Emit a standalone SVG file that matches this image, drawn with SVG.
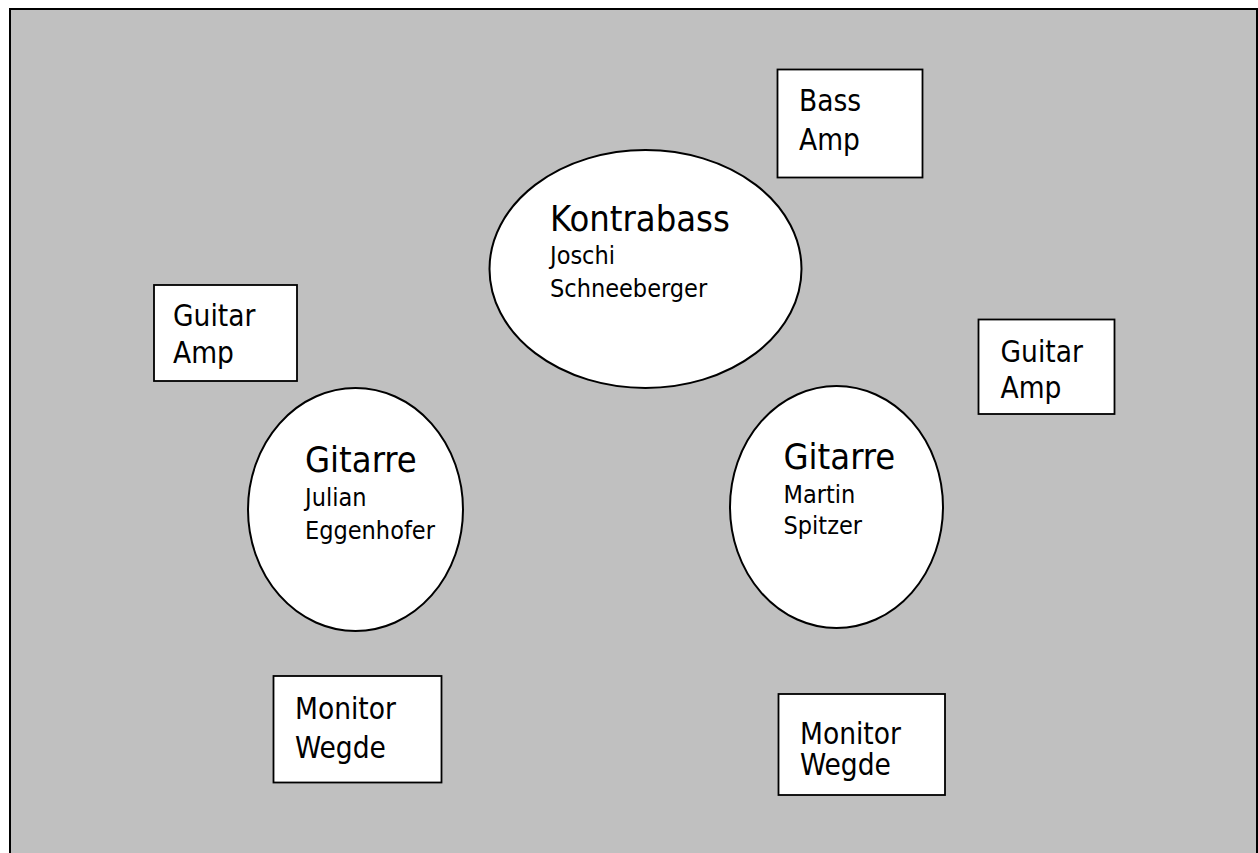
<svg xmlns="http://www.w3.org/2000/svg" width="1258" height="853" viewBox="0 0 1258 853">
<style>
.bg{fill:#c0c0c0;stroke:#000;stroke-width:2}
.box{fill:#fff;stroke:#000;stroke-width:1.8}
.ell{fill:#fff;stroke:#000;stroke-width:2}
text{font-family:"DejaVu Sans Condensed","DejaVu Sans",sans-serif;font-stretch:condensed;fill:#000}
.big{font-size:36px}
.mid{font-size:29.5px}
.sm{font-size:25px}
</style>
<rect width="1258" height="853" fill="#fff"/>
<rect class="bg" x="10" y="9" width="1247" height="900"/>
<g id="connectors"/>
<g id="kontrabass">
<ellipse class="ell" cx="645.5" cy="269" rx="156" ry="119"/>
<text class="big" x="550" y="231">Kontrabass</text>
<text class="sm" x="550" y="264">Joschi</text>
<text class="sm" x="550" y="297">Schneeberger</text>
</g>
<g id="gitarre-julian">
<ellipse class="ell" cx="355.5" cy="509.5" rx="107.5" ry="121.5"/>
<text class="big" x="305" y="472">Gitarre</text>
<text class="sm" x="305" y="506">Julian</text>
<text class="sm" x="305" y="538.5">Eggenhofer</text>
</g>
<g id="gitarre-martin">
<ellipse class="ell" cx="836.5" cy="507" rx="106.5" ry="121"/>
<text class="big" x="783.5" y="468.5">Gitarre</text>
<text class="sm" x="783.5" y="503">Martin</text>
<text class="sm" x="783.5" y="534">Spitzer</text>
</g>
<g id="bass-amp">
<rect class="box" x="777.5" y="69.5" width="145" height="108"/>
<text class="mid" x="799" y="111">Bass</text>
<text class="mid" x="799" y="150">Amp</text>
</g>
<g id="guitar-amp-left">
<rect class="box" x="154" y="285" width="143" height="96"/>
<text class="mid" x="173" y="326">Guitar</text>
<text class="mid" x="173" y="362.5">Amp</text>
</g>
<g id="guitar-amp-right">
<rect class="box" x="978.5" y="319.5" width="136" height="94.5"/>
<text class="mid" x="1000.5" y="361.5">Guitar</text>
<text class="mid" x="1000.5" y="397.5">Amp</text>
</g>
<g id="monitor-left">
<rect class="box" x="273.5" y="676" width="168" height="106.5"/>
<text class="mid" x="295" y="718.5">Monitor</text>
<text class="mid" x="295" y="758">Wegde</text>
</g>
<g id="monitor-right">
<rect class="box" x="778.5" y="694" width="166.5" height="101"/>
<text class="mid" x="800" y="743.5">Monitor</text>
<text class="mid" x="800" y="775">Wegde</text>
</g>
</svg>
